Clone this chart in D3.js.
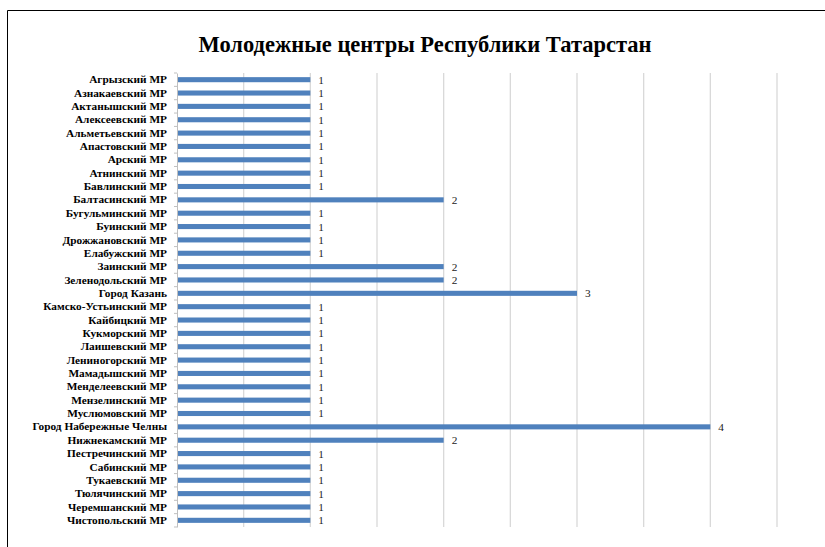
<!DOCTYPE html>
<html>
<head>
<meta charset="utf-8">
<script src="https://cdn.jsdelivr.net/npm/d3@7"></script>
<style>
  body { margin: 0; background: #fff; }
  svg { display: block; }
</style>
</head>
<body>
<svg id="chart"></svg>
<script>
const title = "Молодежные центры Республики Татарстан";

const districts = [
  "Агрызский МР", "Азнакаевский МР", "Актанышский МР", "Алексеевский МР",
  "Альметьевский МР", "Апастовский МР", "Арский МР", "Атнинский МР",
  "Бавлинский МР", "Балтасинский МР", "Бугульминский МР", "Буинский МР",
  "Дрожжановский МР", "Елабужский МР", "Заинский МР", "Зеленодольский МР",
  "Город Казань", "Камско-Устьинский МР", "Кайбицкий МР", "Кукморский МР",
  "Лаишевский МР", "Лениногорский МР", "Мамадышский МР", "Менделеевский МР",
  "Мензелинский МР", "Муслюмовский МР", "Город Набережные Челны", "Нижнекамский МР",
  "Пестречинский МР", "Сабинский МР", "Тукаевский МР", "Тюлячинский МР",
  "Черемшанский МР", "Чистопольский МР"
];

const centres = [
  1, 1, 1, 1, 1, 1, 1, 1, 1, 2, 1, 1, 1, 1, 2, 2, 3,
  1, 1, 1, 1, 1, 1, 1, 1, 1, 4, 2, 1, 1, 1, 1, 1, 1
];

const gridTicks = [0.5, 1, 1.5, 2, 2.5, 3, 3.5, 4, 4.5];

const config = {
  width: 825,
  height: 547,
  margin: { top: 73, right: 48, bottom: 20, left: 177 }
};

const serif = "'Liberation Serif', 'Times New Roman', serif";

const data = districts.map((d, i) => ({ name: d, value: centres[i] }));

const svg = d3.select("#chart")
  .attr("width", config.width)
  .attr("height", config.height);

// outer frame (only left and top edges are visible in the picture)
svg.append("path")
  .attr("d", "M7.5,547 V10.5 H825")
  .attr("fill", "none")
  .attr("stroke", "#000")
  .attr("stroke-width", 1);

const innerW = config.width - config.margin.left - config.margin.right;
const innerH = config.height - config.margin.top - config.margin.bottom;

const chart = svg.append("g")
  .attr("transform", `translate(${config.margin.left},${config.margin.top})`);

const x = d3.scaleLinear()
  .domain([0, 4.5])
  .range([0, innerW]);

const y = d3.scaleBand()
  .domain(districts)
  .range([0, 454])
  .paddingInner(0.62)
  .paddingOuter(0.31);

// vertical gridlines
chart.append("g")
  .selectAll("line")
  .data(gridTicks)
  .join("line")
  .attr("x1", d => x(d))
  .attr("x2", d => x(d))
  .attr("y1", 0)
  .attr("y2", y.range()[1])
  .attr("stroke", "#d9d9d9")
  .attr("stroke-width", 1.3);

// bars
chart.append("g")
  .selectAll("rect")
  .data(data)
  .join("rect")
  .attr("x", x(0))
  .attr("y", d => y(d.name))
  .attr("width", d => x(d.value) - x(0))
  .attr("height", y.bandwidth())
  .attr("fill", "#4f81bd");

// value labels
chart.append("g")
  .selectAll("text")
  .data(data)
  .join("text")
  .attr("x", d => x(d.value) + 8)
  .attr("y", d => y(d.name) + y.bandwidth() / 2)
  .attr("dy", "0.35em")
  .attr("font-family", serif)
  .attr("font-size", 11.3)
  .attr("fill", "#222")
  .text(d => d.value);

// category axis: labels centred on the bars, tick marks on band edges (Excel style)
const yAxis = d3.axisLeft(y).tickSize(0).tickPadding(10);
const yAxisG = chart.append("g").call(yAxis);
yAxisG.select(".domain").attr("stroke", "#bfbfbf");
yAxisG.selectAll(".tick text")
  .attr("font-family", serif)
  .attr("font-size", 11.3)
  .attr("font-weight", "bold")
  .attr("fill", "#000");

const step = y.step();
const edges = d3.range(districts.length + 1).map(i => y(districts[0]) - y.paddingInner() * step / 2 + i * step);
chart.append("g")
  .selectAll("line")
  .data(edges)
  .join("line")
  .attr("x1", -3)
  .attr("x2", 0)
  .attr("y1", d => d)
  .attr("y2", d => d)
  .attr("stroke", "#bfbfbf");

// title
svg.append("text")
  .attr("x", 425)
  .attr("y", 52)
  .attr("text-anchor", "middle")
  .attr("font-family", serif)
  .attr("font-size", 22.5)
  .attr("font-weight", "bold")
  .attr("fill", "#000")
  .text(title);
</script>
</body>
</html>
